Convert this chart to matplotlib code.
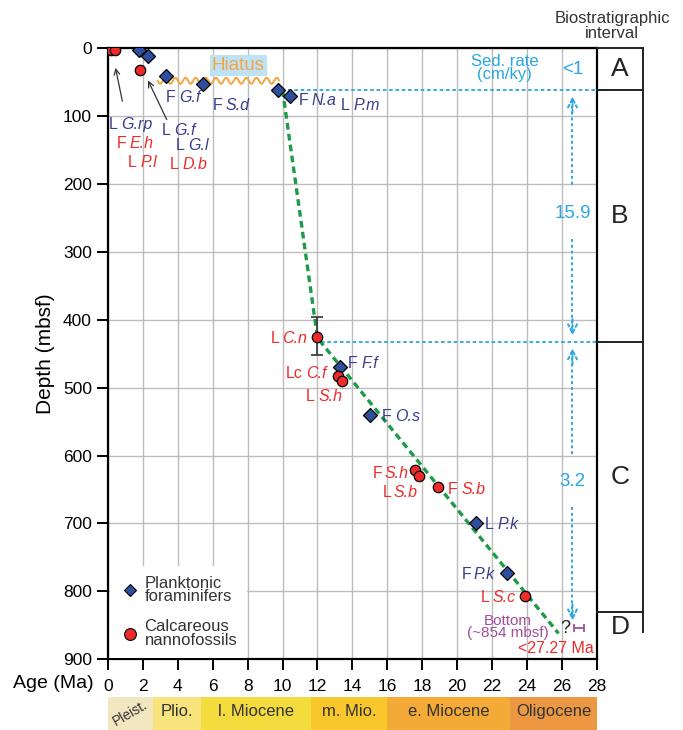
import numpy as np
import matplotlib
matplotlib.use("Agg")
import matplotlib.pyplot as plt
from matplotlib.lines import Line2D

plt.rcParams['font.family'] = ['Liberation Sans', 'DejaVu Sans']

########################################################################################
# DATA
########################################################################################

# planktonic foraminifers (age Ma, depth mbsf)
foram_age   = [0.05, 1.8, 2.3, 3.3, 5.45, 9.75, 10.4, 13.3, 15.0, 21.1, 22.85]
foram_depth = [0, 3, 12, 41, 53, 62, 71, 470, 541, 700, 773]

# calcareous nannofossils
nanno_age   = [0.2, 0.4, 1.85, 12.0, 13.2, 13.4, 17.6, 17.8, 18.9, 23.9]
nanno_depth = [3, 3, 32, 426, 483, 490, 622, 630, 647, 807]

# L C.n depth uncertainty
cn_age   = 12.0
cn_depth = 426
cn_err   = [[30], [26]]

# age-depth model
trend_age   = [10.0, 12.0, 25.8]
trend_depth = [62, 427, 862]

# hiatus
hiatus_start = 2.85
hiatus_end   = 9.8
hiatus_depth = 48

# biostratigraphic intervals
interval_names  = ['A', 'B', 'C', 'D']
interval_bounds = [0, 62, 433, 831, 900]

# sedimentation rates (cm/ky)
sed_rates = ['<1', '15.9', '3.2']

# epochs
epoch_names  = ['Pleist.', 'Plio.', 'l. Miocene', 'm. Mio.', 'e. Miocene', 'Oligocene']
epoch_edges  = [0, 2.58, 5.33, 11.63, 15.97, 23.03, 28]
epoch_colors = ['#F3E7C1', '#F9E37C', '#F5DC3E', '#F8C72C', '#F3AA36', '#EC9742']

# bottom age
bottom_age   = 27.0
bottom_depth = 854

########################################################################################
# COLOURS
########################################################################################

cBlue   = '#2F4E9E'
cBlueT  = '#3B3D8E'
cRed    = '#EE2B2B'
cGreen  = '#1C9B48'
cCyan   = '#2AA7E0'
cOrange = '#F5A540'
cPurple = '#A14F9B'

########################################################################################
# PLOT
########################################################################################

fig = plt.figure(figsize=(6.83, 7.30), dpi=100)
ax  = fig.add_axes([0.158, 0.097, 0.716, 0.837])

ax.set_xlim(0, 28)
ax.set_ylim(900, 0)
ax.set_xticks(np.arange(0, 29, 2))
ax.set_yticks(np.arange(0, 901, 100))
ax.grid(True, color='#BDBDBD', lw=1)
ax.set_axisbelow(True)
for s in ax.spines.values():
    s.set_linewidth(1.6)
ax.tick_params(axis='both', direction='out', length=8, width=1.4, labelsize=12.5)
ax.tick_params(axis='x', pad=6)

ax.set_ylabel('Depth (mbsf)', fontsize=15, labelpad=6)
fig.text(0.019, 0.064, 'Age (Ma)', fontsize=14, va='center', ha='left')

# trend
ax.plot(trend_age, trend_depth, ls=(0, (2.0, 1.3)), color=cGreen, lw=2.4, zorder=3)

# sed rate horizontal lines
for d, a0 in zip(interval_bounds[1:3], [10.3, 12.2]):
    ax.plot([a0, 28], [d, d], ls=(0, (2, 1.5)), color=cCyan, lw=1.3, zorder=2)

# hiatus wavy line
hx = np.linspace(hiatus_start, hiatus_end, 400)
hy = hiatus_depth + 4.5 * np.sin(2 * np.pi * (hx - hiatus_start) / 0.58)
ax.plot(hx, hy, color=cOrange, lw=1.4, zorder=2)
ax.text(7.45, 25, 'Hiatus', color=cOrange, fontsize=13.5, ha='center', va='center',
        bbox=dict(facecolor='#BEE3F6', edgecolor='none', pad=1.5))

# error bar
ax.errorbar([cn_age], [cn_depth], yerr=cn_err, fmt='none', ecolor='#333333',
            elinewidth=1.2, capsize=4, capthick=1.2, zorder=4)

# markers
ax.plot(foram_age, foram_depth, 'D', ms=7, mfc=cBlue, mec='black', mew=0.9, zorder=5)
ax.plot(nanno_age, nanno_depth, 'o', ms=7.5, mfc=cRed, mec='black', mew=0.9, zorder=5)

# labels: prefix upright, taxon italic
labels = [
    ('L',  'G.rp', 0.05, 113, cBlueT, 'left'),
    ('F',  'E.h',  0.5, 140, cRed, 'left'),
    ('L',  'P.l',  1.15, 168, cRed, 'left'),
    ('L',  'G.f',  3.1, 121, cBlueT, 'left'),
    ('L',  'G.l',  3.9, 144, cBlueT, 'left'),
    ('L',  'D.b',  3.55, 171, cRed, 'left'),
    ('F',  'G.f',  3.3, 72, cBlueT, 'left'),
    ('F',  'S.d',  6.0, 85, cBlueT, 'left'),
    ('F',  'N.a',  10.9, 77, cBlueT, 'left'),
    ('L',  'P.m',  13.35, 84, cBlueT, 'left'),
    ('L',  'C.n',  11.4, 427, cRed, 'right'),
    ('F',  'F.f',  13.75, 465, cBlueT, 'left'),
    ('Lc', 'C.f',  12.5, 479, cRed, 'right'),
    ('L',  'S.h',  11.35, 513, cRed, 'left'),
    ('F',  'O.s',  15.7, 542, cBlueT, 'left'),
    ('F',  'S.h',  17.24, 626, cRed, 'right'),
    ('L',  'S.b',  17.75, 654, cRed, 'right'),
    ('F',  'S.b',  19.47, 650, cRed, 'left'),
    ('L',  'P.k',  21.6, 701, cBlueT, 'left'),
    ('F',  'P.k',  22.16, 775, cBlueT, 'right'),
    ('L',  'S.c',  23.36, 809, cRed, 'right'),
]
fs = 11.5
for pre, taxon, a, d, c, ha in labels:
    if ha == 'left':
        t1 = ax.text(a, d, pre, color=c, fontsize=fs, ha='left', va='center', zorder=6)
        ax.annotate(taxon, xy=(1, 0.5), xycoords=t1, xytext=(2.5, 0),
                    textcoords='offset points', color=c, fontsize=fs, style='italic',
                    ha='left', va='center', zorder=6)
    else:
        t2 = ax.text(a, d, taxon, color=c, fontsize=fs, ha='right', va='center',
                     style='italic', zorder=6)
        ax.annotate(pre, xy=(0, 0.5), xycoords=t2, xytext=(-2.0, 0),
                    textcoords='offset points', color=c, fontsize=fs,
                    ha='right', va='center', zorder=6)

# small arrows to top datums
for (a0, d0), (a1, d1) in [((0.86, 82), (0.4, 25)), ((3.44, 109), (2.23, 44))]:
    ax.annotate('', xy=(a1, d1), xytext=(a0, d0),
                arrowprops=dict(arrowstyle='->', color='#333333', lw=0.9))

# sed rate annotation
ax.text(22.7, 29, 'Sed. rate\n(cm/ky)', color=cCyan, fontsize=12, ha='center',
        va='center', linespacing=0.8)
ax.text(26.6, 32, sed_rates[0], color=cCyan, fontsize=13.5, ha='center', va='center')

ax_x = 26.6
segs = [(71, 209), (275, 423), (442, 607), (670, 843)]
for d0, d1 in segs:
    ax.plot([ax_x, ax_x], [d0 + 6, d1 - 6], ls=(0, (1.5, 1.5)), color=cCyan, lw=1.4)
for tip, base in [(71, 95), (423, 399), (442, 466), (843, 819)]:
    ax.annotate('', xy=(ax_x, tip), xytext=(ax_x, base),
                arrowprops=dict(arrowstyle='->', color=cCyan, lw=1.4,
                                mutation_scale=16, shrinkA=0, shrinkB=0,
                                linestyle=(0, (1.5, 1.5))))
ax.text(ax_x, 243, sed_rates[1], color=cCyan, fontsize=13.5, ha='center', va='center')
ax.text(ax_x, 639, sed_rates[2], color=cCyan, fontsize=13.5, ha='center', va='center')

# bottom
ax.text(22.9, 853, 'Bottom\n(~854 mbsf)', color=cPurple, fontsize=11, ha='center',
        va='center', linespacing=0.85)
ax.text(26.2, 855, '?', color='#222222', fontsize=13, ha='center', va='center')
ax.errorbar([bottom_age], [bottom_depth], xerr=[[0.3], [0.25]], fmt='none',
            ecolor=cPurple, elinewidth=1.3, capsize=3, capthick=1.3)
ax.text(27.8, 884, '<27.27 Ma', color=cRed, fontsize=11.5, ha='right', va='center')

# legend
handles = [Line2D([], [], marker='D', ls='none', ms=6, mfc=cBlue, mec='black', mew=0.8),
           Line2D([], [], marker='o', ls='none', ms=8.5, mfc=cRed, mec='black', mew=0.8)]
leg = ax.legend(handles, ['Planktonic\nforaminifers', 'Calcareous\nnannofossils'],
                loc='lower left', borderaxespad=0.1, fontsize=12, frameon=True,
                fancybox=False, handletextpad=0.3, labelspacing=0.9, borderpad=0.6,
                handlelength=1.2)
leg.get_frame().set_edgecolor('none')
leg.get_frame().set_facecolor('white')
leg.get_frame().set_alpha(1)
for t in leg.get_texts():
    t.set_color('#333333')
    t.set_linespacing(0.85)

########################################################################################
# INTERVAL COLUMN
########################################################################################

axi = fig.add_axes([0.874, 0.097, 0.0673, 0.837])
axi.set_xlim(0, 1)
axi.set_ylim(900, 0)
axi.axis('off')
for b in interval_bounds[:4]:
    axi.plot([0, 1], [b, b], color='#222222', lw=1.4, clip_on=False)
axi.plot([1, 1], [0, 860], color='#222222', lw=1.4, clip_on=False)
for i, name in enumerate(interval_names):
    mid = (interval_bounds[i] + interval_bounds[i + 1]) / 2
    if name == 'D':
        mid = 853
    axi.text(0.5, mid, name, fontsize=19, ha='center', va='center', color='#222222')
fig.text(0.896, 0.965, 'Biostratigraphic\ninterval', fontsize=12, ha='center',
         va='center', color='#333333', linespacing=1.0)

########################################################################################
# EPOCH BAR
########################################################################################

axe = fig.add_axes([0.158, 0.0, 0.716, 0.045])
axe.set_xlim(0, 28)
axe.set_ylim(0, 1)
axe.axis('off')
for i, name in enumerate(epoch_names):
    l, r = epoch_edges[i], epoch_edges[i + 1]
    axe.barh(0.5, r - l, left=l, height=1, color=epoch_colors[i], edgecolor='none')
    if name == 'Pleist.':
        axe.text((l + r) / 2, 0.5, name, fontsize=10, ha='center', va='center',
                 rotation=30, color='#333333')
    else:
        axe.text((l + r) / 2, 0.55, name, fontsize=12, ha='center', va='center',
                 color='#333333')

fig.savefig('out.png', dpi=100)
